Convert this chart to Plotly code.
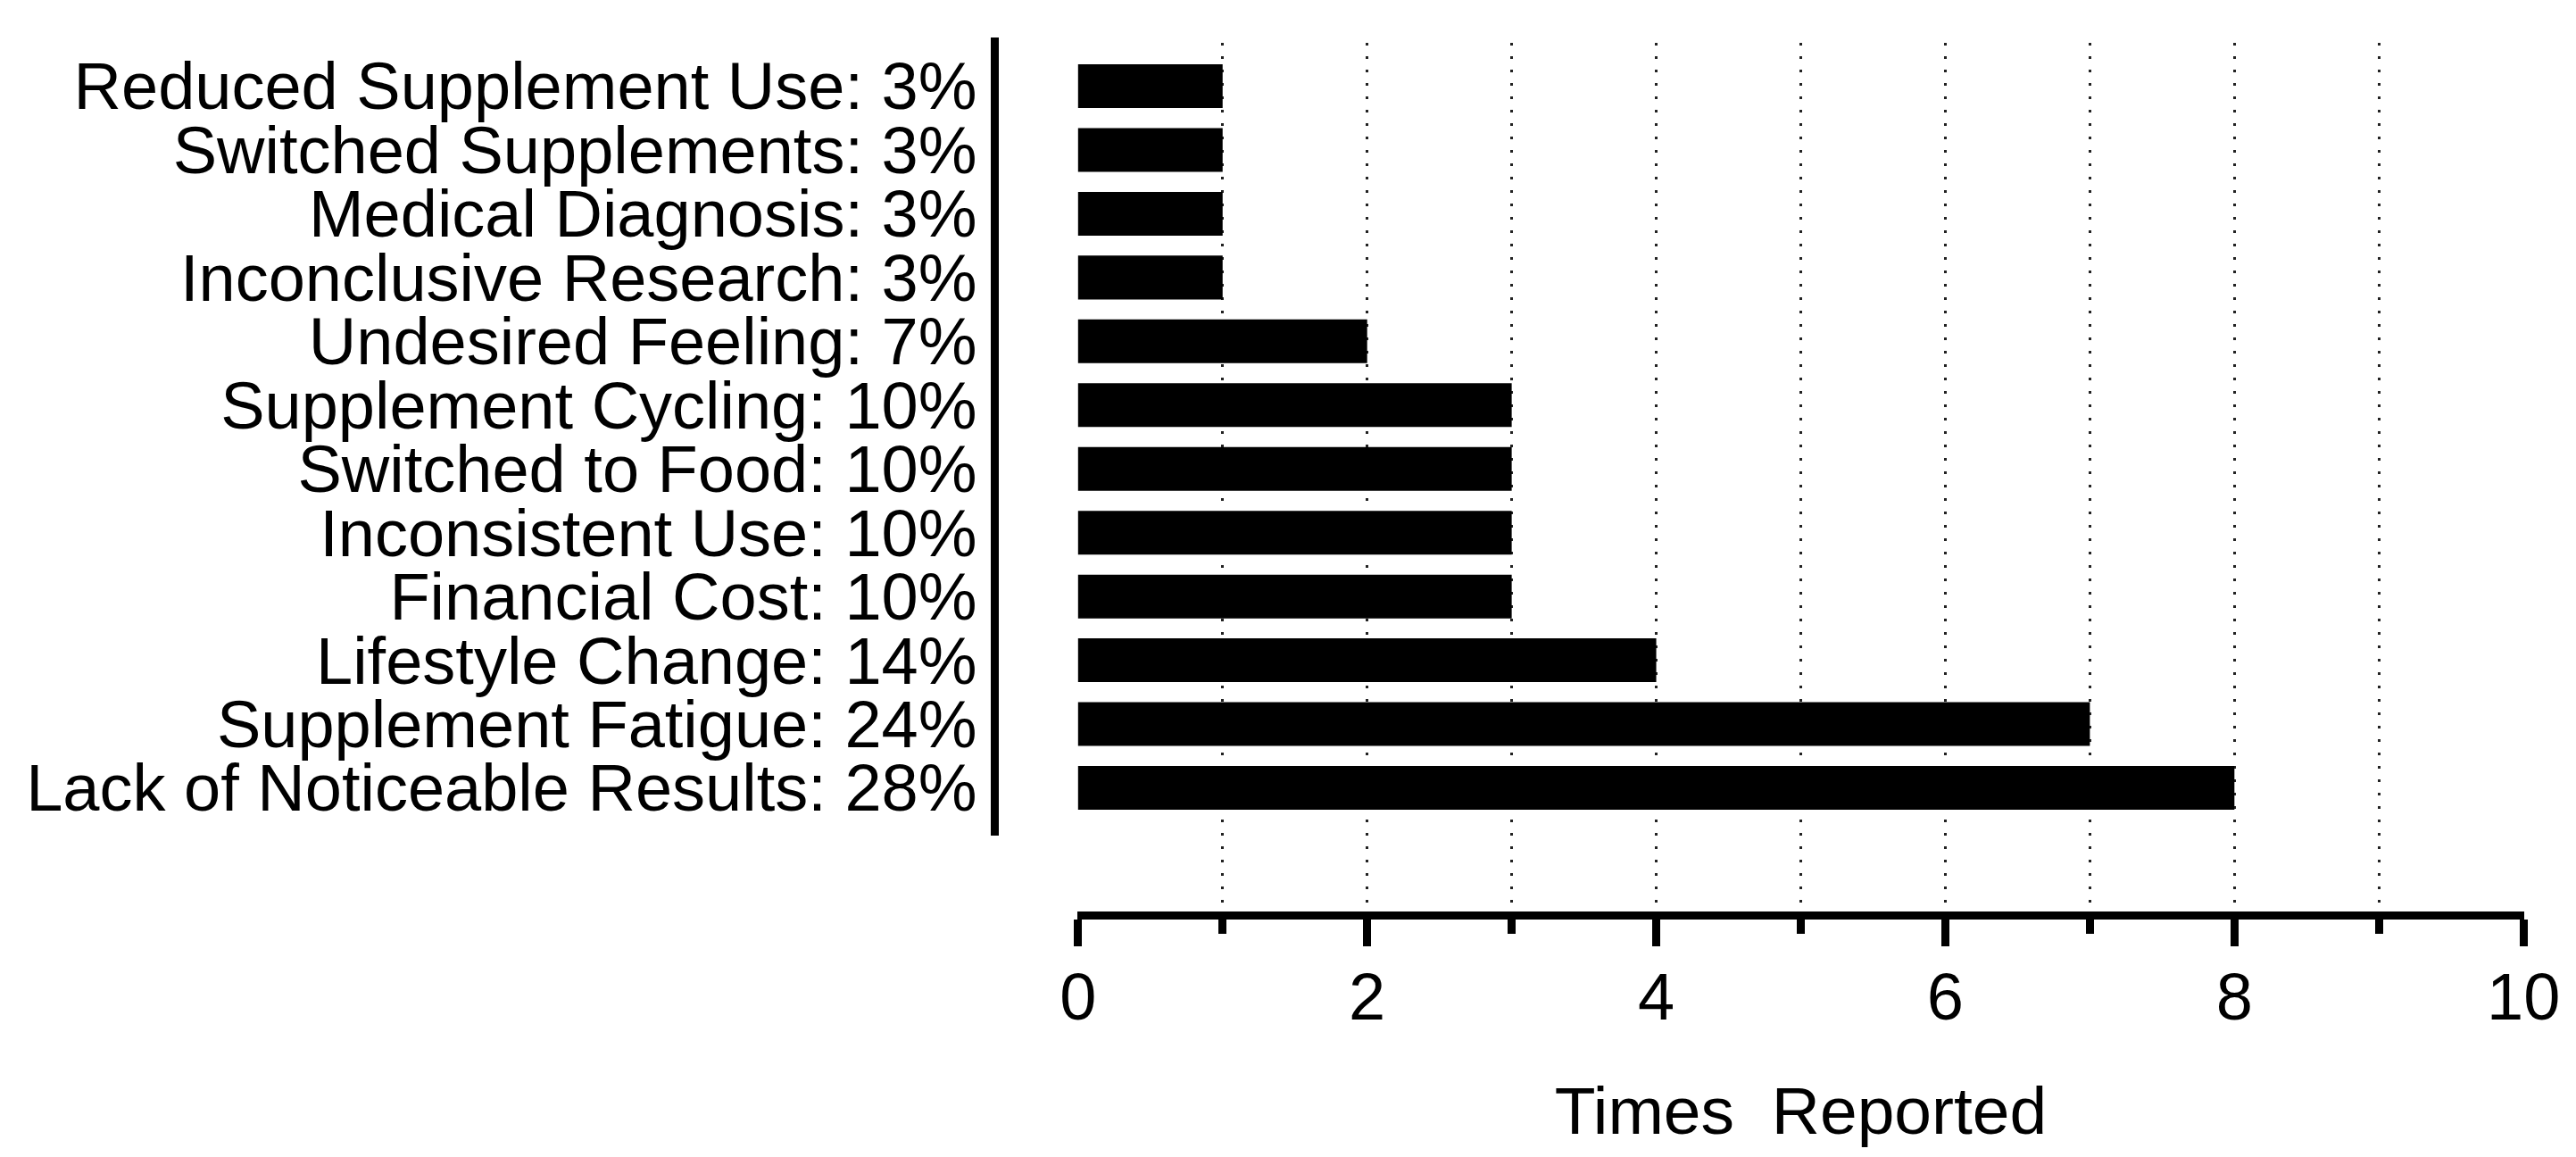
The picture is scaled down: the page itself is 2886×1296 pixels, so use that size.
import plotly.graph_objects as go

# Data (top to bottom as shown)
reasons = [
    "Reduced Supplement Use: 3%",
    "Switched Supplements: 3%",
    "Medical Diagnosis: 3%",
    "Inconclusive Research: 3%",
    "Undesired Feeling: 7%",
    "Supplement Cycling: 10%",
    "Switched to Food: 10%",
    "Inconsistent Use: 10%",
    "Financial Cost: 10%",
    "Lifestyle Change: 14%",
    "Supplement Fatigue: 24%",
    "Lack of Noticeable Results: 28%",
]
times_reported = [1, 1, 1, 1, 2, 3, 3, 3, 3, 4, 7, 8]
x_tick_vals = [0, 2, 4, 6, 8, 10]
x_title = "Times\u00a0\u00a0Reported"

# page has an 8px body margin: size the figure to fit inside the window
OFF = 8
W, H = 2886 - 2 * OFF, 1296 - 2 * OFF
FONT = "Arial, 'Liberation Sans', Helvetica, sans-serif"

def px_x(p):
    return (p - OFF) / W

def px_y(p):
    return 1 - (p - OFF) / H

fig = go.Figure()
fig.add_trace(go.Bar(
    x=times_reported,
    y=reasons,
    orientation="h",
    marker=dict(color="black", line=dict(width=0)),
    width=0.686,
    xaxis="x", yaxis="y",
    showlegend=False,
))
# empty helper trace for the offset y-axis line
fig.add_trace(go.Scatter(x=[], y=[], xaxis="x2", yaxis="y2", showlegend=False))

LW = 9
x_dom = [px_x(1207), px_x(2828)]
y_pos = px_x(1109 + LW / 2)

fig.update_layout(
    width=W, height=H,
    margin=dict(l=0, r=0, t=0, b=0, autoexpand=False),
    paper_bgcolor="white",
    plot_bgcolor="rgba(0,0,0,0)",
    font=dict(family=FONT, size=74, color="black"),
    xaxis=dict(
        domain=x_dom,
        range=[-0.005, 10.005],
        anchor="y",
        automargin=False,
        showline=True, linewidth=LW, linecolor="black",
        ticks="outside", ticklen=30, tickwidth=LW, tickcolor="black",
        tickvals=x_tick_vals,
        tickfont=dict(size=74, family=FONT, color="black"),
        ticklabelstandoff=-6,
        showgrid=True, gridcolor="#222222", gridwidth=3, griddash="3px,12px",
        zeroline=False,
        minor=dict(dtick=1, tick0=0, ticks="outside", ticklen=16, tickwidth=LW,
                   tickcolor="black", showgrid=True, gridcolor="#222222",
                   gridwidth=3, griddash="3px,12px"),
        title=dict(text=x_title, font=dict(size=75, family=FONT, color="black"),
                   standoff=64),
    ),
    yaxis=dict(
        domain=[px_y(1020.5), px_y(48)],
        anchor="free", position=y_pos,
        automargin=False,
        type="category",
        categoryorder="array", categoryarray=list(reversed(reasons)),
        tickmode="array", tickvals=reasons,
        range=[-1.931, 11.679],
        showline=False, ticks="",
        showgrid=False, zeroline=False,
        tickfont=dict(size=74, family=FONT, color="black"),
        ticklabelstandoff=19,
    ),
    xaxis2=dict(domain=x_dom, anchor="y2", visible=False, range=[0, 10],
                automargin=False),
    yaxis2=dict(
        domain=[px_y(936), px_y(42)],
        anchor="free", position=y_pos,
        automargin=False,
        showline=True, linewidth=LW, linecolor="black",
        ticks="", showticklabels=False, showgrid=False, zeroline=False,
        range=[0, 1],
    ),
)

fig.write_html("out.html")
